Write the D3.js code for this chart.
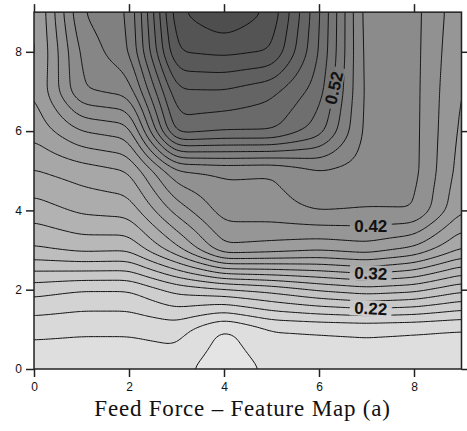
<!DOCTYPE html>
<html>
<head>
<meta charset="utf-8">
<script src="https://cdn.jsdelivr.net/npm/d3@7"></script>
<style>
  body { margin: 0; background: #fff; }
  svg { display: block; }
</style>
</head>
<body>
<svg id="chart" width="467" height="431"></svg>
<script>
// Feature-map node coordinates (map units)
const xNodes = [0, 1, 2, 3, 4, 5, 6, 7, 8, 9];
const yNodes = [0, 1, 2, 3, 4, 5, 6, 7, 8, 9];

// Feed-force component value at each map node, one row per y (y = 0 first)
const mapRow0 = [0.145, 0.146, 0.146, 0.148, 0.125, 0.145, 0.148, 0.150, 0.150, 0.150];
const mapRow1 = [0.1655, 0.163, 0.163, 0.168, 0.137, 0.159, 0.161, 0.1625, 0.1605, 0.158];
const mapRow2 = [0.208, 0.200, 0.200, 0.226, 0.236, 0.246, 0.262, 0.272, 0.266, 0.245];
const mapRow3 = [0.2765, 0.285, 0.283, 0.333, 0.395, 0.390, 0.383, 0.390, 0.375, 0.338];
const mapRow4 = [0.310, 0.324, 0.328, 0.388, 0.430, 0.432, 0.442, 0.4395, 0.441, 0.381];
const mapRow5 = [0.339, 0.350, 0.360, 0.437, 0.443, 0.441, 0.458, 0.452, 0.447, 0.390];
const mapRow6 = [0.366, 0.400, 0.410, 0.570, 0.562, 0.562, 0.530, 0.452, 0.447, 0.394];
const mapRow7 = [0.378, 0.459, 0.467, 0.597, 0.598, 0.585, 0.550, 0.452, 0.447, 0.397];
const mapRow8 = [0.373, 0.465, 0.497, 0.641, 0.645, 0.640, 0.560, 0.450, 0.447, 0.401];
const mapRow9 = [0.374, 0.480, 0.500, 0.6556, 0.680, 0.655, 0.563, 0.448, 0.447, 0.405];

// Contour levels and the labelled ones
const levelStart = 0.14, levelStep = 0.02, levelCount = 27;   // 0.14 ... 0.66
const labelValues = [0.22, 0.32, 0.42, 0.52];
const labelX = [7.09, 7.09, 7.09, 6.34];
const labelY = [1.57, 2.38, 3.53, 7.09];
const labelAngle = [3, 3, 0, -77];

// Axis ticks and title
const tickValues = [0, 2, 4, 6, 8];
const titleText = "Feed Force \u2013 Feature Map (a)";

const grid = [mapRow0, mapRow1, mapRow2, mapRow3, mapRow4,
              mapRow5, mapRow6, mapRow7, mapRow8, mapRow9];
const levels = d3.range(levelCount).map(k => +(levelStart + k * levelStep).toFixed(2));

const W = 467, H = 431;
const x = d3.scaleLinear().domain([0, 9]).range([34, 461.5]);
const y = d3.scaleLinear().domain([0, 9]).range([369, 12.15]);

// value -> gray
const gray = d3.scaleLinear().domain([0.13, 0.67]).range([228, 78]).clamp(true);
const fillFor = v => { const g = Math.round(gray(v)); return `rgb(${g},${g},${g})`; };

// bilinear surface through the map nodes
const last = xNodes.length - 1;
function bilinear(px, py) {
  px = Math.max(0, Math.min(last, px)); py = Math.max(0, Math.min(last, py));
  const i = Math.min(Math.floor(px), last - 1), j = Math.min(Math.floor(py), last - 1);
  const tx = px - i, ty = py - j;
  return grid[j][i] * (1 - tx) * (1 - ty) + grid[j][i + 1] * tx * (1 - ty) +
         grid[j + 1][i] * (1 - tx) * ty + grid[j + 1][i + 1] * tx * ty;
}

// dense raster, lightly smoothed to round off the corners at the nodes
const step = 0.05, n = Math.round(last / step) + 1;
let values = new Float64Array(n * n);
for (let j = 0; j < n; j++)
  for (let i = 0; i < n; i++)
    values[j * n + i] = bilinear(i * step, j * step);

function boxPass(src, r, horizontal) {
  const out = new Float64Array(n * n);
  for (let a = 0; a < n; a++) {
    for (let b = 0; b < n; b++) {
      let s = 0;
      for (let k = -r; k <= r; k++) {
        const c = Math.max(0, Math.min(n - 1, b + k));
        s += horizontal ? src[a * n + c] : src[c * n + a];
      }
      if (horizontal) out[a * n + b] = s / (2 * r + 1);
      else out[b * n + a] = s / (2 * r + 1);
    }
  }
  return out;
}
for (let p = 0; p < 2; p++) {
  values = boxPass(values, 3, true);
  values = boxPass(values, 3, false);
}
function field(px, py) {
  const gx = Math.max(0, Math.min(n - 1, px / step)), gy = Math.max(0, Math.min(n - 1, py / step));
  const i = Math.min(Math.floor(gx), n - 2), j = Math.min(Math.floor(gy), n - 2);
  const tx = gx - i, ty = gy - j;
  return values[j * n + i] * (1 - tx) * (1 - ty) + values[j * n + i + 1] * tx * (1 - ty) +
         values[(j + 1) * n + i] * (1 - tx) * ty + values[(j + 1) * n + i + 1] * tx * ty;
}

const contours = d3.contours().size([n, n]).thresholds(levels)(Array.from(values));

const toPixels = d3.geoTransform({
  point(gx, gy) { this.stream.point(x((gx - 0.5) * step), y((gy - 0.5) * step)); }
});
const path = d3.geoPath(toPixels);

const svg = d3.select("#chart");
const defs = svg.append("defs");
defs.append("clipPath").attr("id", "plotClip")
  .append("rect")
  .attr("x", x(0)).attr("y", y(9))
  .attr("width", x(9) - x(0)).attr("height", y(0) - y(9));

// label positions snapped onto their contour
function bisect(f, a, b) {
  let fa = f(a);
  for (let k = 0; k < 50; k++) {
    const m = (a + b) / 2, fm = f(m);
    if ((fa < 0) === (fm < 0)) { a = m; fa = fm; } else b = m;
  }
  return (a + b) / 2;
}
const labels = labelValues.map((v, k) => {
  let lx = labelX[k], ly = labelY[k];
  if (Math.abs(labelAngle[k]) > 45) lx = bisect(t => field(t, ly) - v, lx - 0.5, lx + 0.5);
  else ly = bisect(t => field(lx, t) - v, ly - 0.5, ly + 0.5);
  return { v, px: x(lx), py: y(ly), angle: labelAngle[k] };
});

// mask that opens gaps in the lines under the labels
const mask = defs.append("mask").attr("id", "labelGaps")
  .attr("maskUnits", "userSpaceOnUse")
  .attr("x", 0).attr("y", 0).attr("width", W).attr("height", H);
mask.append("rect").attr("width", W).attr("height", H).attr("fill", "#fff");
mask.selectAll("rect.gap").data(labels).join("rect")
  .attr("class", "gap")
  .attr("x", -21).attr("y", -8).attr("width", 42).attr("height", 16)
  .attr("fill", "#000")
  .attr("transform", d => `translate(${d.px},${d.py}) rotate(${d.angle})`);

const plot = svg.append("g").attr("clip-path", "url(#plotClip)");

// filled bands
plot.append("rect")
  .attr("x", x(0)).attr("y", y(9))
  .attr("width", x(9) - x(0)).attr("height", y(0) - y(9))
  .attr("fill", fillFor(levelStart - levelStep / 2));
plot.append("g").selectAll("path").data(contours).join("path")
  .attr("d", path)
  .attr("fill", d => fillFor(d.value + levelStep / 2))
  .attr("stroke", "none");

// contour lines
plot.append("g").attr("mask", "url(#labelGaps)")
  .selectAll("path").data(contours).join("path")
  .attr("d", path)
  .attr("fill", "none")
  .attr("stroke", "#111")
  .attr("stroke-width", 1)
  .attr("stroke-linejoin", "round");

// contour labels
svg.append("g").selectAll("text").data(labels).join("text")
  .attr("transform", d => `translate(${d.px},${d.py}) rotate(${d.angle})`)
  .attr("text-anchor", "middle")
  .attr("dy", "0.36em")
  .attr("font-family", "Liberation Sans, Arial, sans-serif")
  .attr("font-weight", "bold")
  .attr("font-size", 17)
  .attr("fill", "#111")
  .text(d => d.v.toFixed(2));

// frame
svg.append("rect")
  .attr("x", x(0)).attr("y", y(9))
  .attr("width", x(9) - x(0)).attr("height", y(0) - y(9))
  .attr("fill", "none").attr("stroke", "#222").attr("stroke-width", 1.5);

// axes, ticks pointing outwards on all four sides
function styleAxis(g) {
  g.select(".domain").remove();
  g.selectAll(".tick line").attr("stroke", "#222").attr("stroke-width", 1.5);
  g.selectAll(".tick text")
    .attr("font-family", "Liberation Sans, Arial, sans-serif")
    .attr("font-size", 12).attr("fill", "#111");
}
svg.append("g").attr("transform", `translate(0,${y(0)})`)
  .call(d3.axisBottom(x).tickValues(tickValues).tickSize(8).tickPadding(5).tickFormat(d3.format("d")))
  .call(styleAxis);
svg.append("g").attr("transform", `translate(${x(0)},0)`)
  .call(d3.axisLeft(y).tickValues(tickValues).tickSize(8).tickPadding(4).tickFormat(d3.format("d")))
  .call(styleAxis);
svg.append("g").attr("transform", `translate(0,${y(9)})`)
  .call(d3.axisTop(x).tickValues(tickValues).tickSize(8).tickFormat(""))
  .call(styleAxis);
svg.append("g").attr("transform", `translate(${x(9)},0)`)
  .call(d3.axisRight(y).tickValues(tickValues).tickSize(8).tickFormat(""))
  .call(styleAxis);

// title
svg.append("text")
  .attr("x", 242.5).attr("y", 416)
  .attr("text-anchor", "middle")
  .attr("font-family", "Liberation Serif, Times New Roman, serif")
  .attr("font-size", 23)
  .attr("letter-spacing", 0.8)
  .attr("fill", "#111")
  .text(titleText);
</script>
</body>
</html>
